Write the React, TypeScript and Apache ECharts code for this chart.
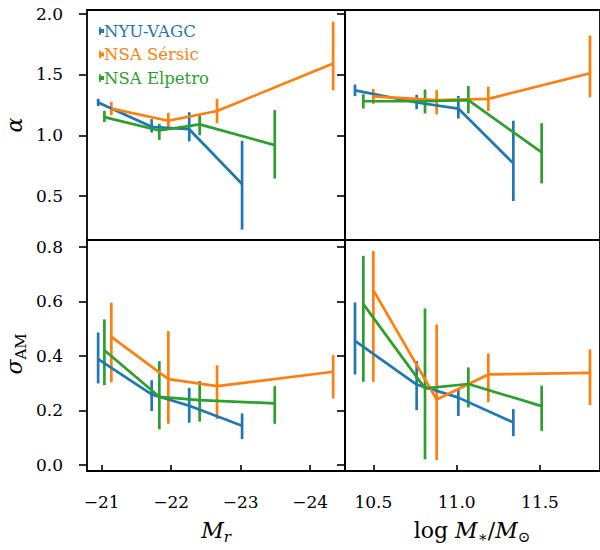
import React, { useEffect, useRef } from "react";
import * as echarts from "echarts";

const BLUE = "#1f77b4";
const ORANGE = "#ff7f0e";
const GREEN = "#2ca02c";
const SERIF = "DejaVu Serif";

const catalogues = ["NYU-VAGC", "NSA Sérsic", "NSA Elpetro"];

// Bin centres in absolute r-band magnitude
const mrNyu = [-20.95, -21.72, -22.26, -23.02];
const mrSersic = [-21.14, -21.96, -22.66, -24.33];
const mrElpetro = [-21.04, -21.83, -22.41, -23.49];

// Bin centres in log stellar mass
const lmNyu = [10.39, 10.76, 11.01, 11.34];
const lmSersic = [10.5, 10.88, 11.19, 11.8];
const lmElpetro = [10.44, 10.81, 11.07, 11.51];

// alpha against M_r; errors are [minus, plus]
const alphaMrNyu = [1.27, 1.07, 1.05, 0.6];
const alphaMrNyuErr = [[0.03, 0.03], [0.047, 0.063], [0.1, 0.14], [0.375, 0.355]];
const alphaMrSersic = [1.22, 1.12, 1.2, 1.59];
const alphaMrSersicErr = [[0.055, 0.055], [0.063, 0.065], [0.1, 0.1], [0.22, 0.345]];
const alphaMrElpetro = [1.15, 1.04, 1.09, 0.92];
const alphaMrElpetroErr = [[0.04, 0.05], [0.077, 0.055], [0.09, 0.088], [0.275, 0.287]];

// alpha against log M*
const alphaLmNyu = [1.37, 1.27, 1.22, 0.77];
const alphaLmNyuErr = [[0.048, 0.048], [0.055, 0.063], [0.082, 0.104], [0.31, 0.35]];
const alphaLmSersic = [1.32, 1.29, 1.3, 1.51];
const alphaLmSersicErr = [[0.062, 0.062], [0.118, 0.082], [0.1, 0.1], [0.197, 0.31]];
const alphaLmElpetro = [1.28, 1.28, 1.29, 0.86];
const alphaLmElpetroErr = [[0.06, 0.058], [0.1, 0.096], [0.11, 0.115], [0.255, 0.24]];

// sigma_AM against M_r
const sigMrNyu = [0.388, 0.259, 0.217, 0.144];
const sigMrNyuErr = [[0.089, 0.098], [0.061, 0.052], [0.062, 0.066], [0.049, 0.045]];
const sigMrSersic = [0.47, 0.315, 0.289, 0.342];
const sigMrSersicErr = [[0.167, 0.125], [0.164, 0.176], [0.121, 0.077], [0.098, 0.061]];
const sigMrElpetro = [0.421, 0.25, 0.238, 0.226];
const sigMrElpetroErr = [[0.128, 0.113], [0.119, 0.131], [0.079, 0.07], [0.075, 0.063]];

// sigma_AM against log M*
const sigLmNyu = [0.455, 0.295, 0.247, 0.156];
const sigLmNyuErr = [[0.123, 0.141], [0.094, 0.086], [0.067, 0.034], [0.05, 0.049]];
const sigLmSersic = [0.641, 0.24, 0.332, 0.338];
const sigLmSersicErr = [[0.336, 0.144], [0.222, 0.275], [0.102, 0.077], [0.118, 0.086]];
const sigLmElpetro = [0.59, 0.281, 0.297, 0.216];
const sigLmElpetroErr = [[0.285, 0.177], [0.26, 0.293], [0.086, 0.061], [0.091, 0.075]];

// Tick positions
const mrTicks = [-21, -22, -23, -24];
const lmTicks = [10.5, 11.0, 11.5];
const alphaTicks = [0.5, 1.0, 1.5, 2.0];
const sigTicks = [0.0, 0.2, 0.4, 0.6, 0.8];

const LINE_W = 2.7;

function errorSeries(grid: number, xs: number[], ys: number[], errs: number[][], color: string, name: string) {
  const line = {
    type: "line",
    name,
    xAxisIndex: grid,
    yAxisIndex: grid,
    data: xs.map((x, i) => [x, ys[i]]),
    symbol: "none",
    showSymbol: false,
    lineStyle: { color, width: LINE_W },
    silent: true,
  };
  const bars = {
    type: "custom",
    name,
    xAxisIndex: grid,
    yAxisIndex: grid,
    data: xs.map((x, i) => [x, ys[i] - errs[i][0], ys[i] + errs[i][1]]),
    encode: { x: 0, y: [1, 2] },
    silent: true,
    renderItem: (_params: any, api: any) => {
      const lo = api.coord([api.value(0), api.value(1)]);
      const hi = api.coord([api.value(0), api.value(2)]);
      return {
        type: "line",
        shape: { x1: lo[0], y1: lo[1], x2: hi[0], y2: hi[1] },
        style: { stroke: color, lineWidth: LINE_W },
      };
    },
  };
  return [line, bars];
}

const tickStyle = { color: "#000", width: 1.6 };
const labelFont = { fontFamily: SERIF, fontSize: 17, color: "#000" };

function xAxisFor(grid: number, kind: "mr" | "lm", labelled: boolean) {
  const isMr = kind === "mr";
  const ticks = isMr ? mrTicks : lmTicks;
  return {
    type: "value",
    gridIndex: grid,
    min: isMr ? -24.5 : 10.33,
    max: isMr ? -20.79 : 11.86,
    inverse: isMr,
    axisLine: { show: false },
    splitLine: { show: false },
    axisTick: { show: labelled, inside: false, length: 7, lineStyle: tickStyle, customValues: ticks },
    axisLabel: {
      show: labelled,
      customValues: ticks,
      margin: 22,
      ...labelFont,
      formatter: (v: number) => (isMr ? "\u2212" + Math.abs(v) : v.toFixed(1)),
    },
  };
}

function yAxisFor(grid: number, kind: "alpha" | "sig", labelled: boolean) {
  const isAlpha = kind === "alpha";
  const ticks = isAlpha ? alphaTicks : sigTicks;
  return {
    type: "value",
    gridIndex: grid,
    min: isAlpha ? 0.14 : -0.022,
    max: isAlpha ? 2.03 : 0.825,
    axisLine: { show: false },
    splitLine: { show: false },
    axisTick: { show: true, inside: false, length: 8, lineStyle: tickStyle, customValues: ticks },
    axisLabel: {
      show: labelled,
      customValues: ticks,
      margin: 24,
      ...labelFont,
      formatter: (v: number) => v.toFixed(1),
    },
  };
}

const gridBox = { show: true, borderColor: "#000", borderWidth: 1.8, backgroundColor: "transparent" };

function legendItem(i: number, color: string, y: number) {
  return [
    {
      type: "rect",
      shape: { x: 99, y: y - 2, width: 5, height: 4 },
      style: { fill: color },
    },
    {
      type: "line",
      shape: { x1: 100, y1: y - 4, x2: 100, y2: y + 4 },
      style: { stroke: color, lineWidth: 1.6 },
    },
    {
      type: "text",
      x: 104,
      y,
      style: {
        text: catalogues[i],
        fill: color,
        font: `16.5px '${SERIF}'`,
        verticalAlign: "middle",
        align: "left",
      },
    },
  ];
}

const mathRich = {
  i: { fontFamily: SERIF, fontStyle: "italic", fontSize: 22, lineHeight: 28, color: "#000" },
  n: { fontFamily: SERIF, fontSize: 22, lineHeight: 28, color: "#000" },
  s: { fontFamily: SERIF, fontSize: 15, lineHeight: 15, verticalAlign: "bottom", color: "#000" },
  si: { fontFamily: SERIF, fontStyle: "italic", fontSize: 15, lineHeight: 15, verticalAlign: "bottom", color: "#000" },
};

export default function App() {
  const ref = useRef<HTMLDivElement>(null);

  useEffect(() => {
    if (!ref.current) return;
    const chart = echarts.init(ref.current, undefined, { renderer: "svg" });

    const series = [
      ...errorSeries(0, mrNyu, alphaMrNyu, alphaMrNyuErr, BLUE, catalogues[0]),
      ...errorSeries(0, mrSersic, alphaMrSersic, alphaMrSersicErr, ORANGE, catalogues[1]),
      ...errorSeries(0, mrElpetro, alphaMrElpetro, alphaMrElpetroErr, GREEN, catalogues[2]),
      ...errorSeries(1, lmNyu, alphaLmNyu, alphaLmNyuErr, BLUE, catalogues[0]),
      ...errorSeries(1, lmSersic, alphaLmSersic, alphaLmSersicErr, ORANGE, catalogues[1]),
      ...errorSeries(1, lmElpetro, alphaLmElpetro, alphaLmElpetroErr, GREEN, catalogues[2]),
      ...errorSeries(2, mrNyu, sigMrNyu, sigMrNyuErr, BLUE, catalogues[0]),
      ...errorSeries(2, mrSersic, sigMrSersic, sigMrSersicErr, ORANGE, catalogues[1]),
      ...errorSeries(2, mrElpetro, sigMrElpetro, sigMrElpetroErr, GREEN, catalogues[2]),
      ...errorSeries(3, lmNyu, sigLmNyu, sigLmNyuErr, BLUE, catalogues[0]),
      ...errorSeries(3, lmSersic, sigLmSersic, sigLmSersicErr, ORANGE, catalogues[1]),
      ...errorSeries(3, lmElpetro, sigLmElpetro, sigLmElpetroErr, GREEN, catalogues[2]),
    ];

    chart.setOption({
      animation: false,
      backgroundColor: "#fff",
      grid: [
        { left: 87, top: 10, width: 258, height: 230, ...gridBox },
        { left: 345, top: 10, width: 257, height: 230, ...gridBox },
        { left: 87, top: 240, width: 258, height: 231, ...gridBox },
        { left: 345, top: 240, width: 257, height: 231, ...gridBox },
      ],
      xAxis: [
        xAxisFor(0, "mr", false),
        xAxisFor(1, "lm", false),
        xAxisFor(2, "mr", true),
        xAxisFor(3, "lm", true),
      ],
      yAxis: [
        yAxisFor(0, "alpha", true),
        yAxisFor(1, "alpha", false),
        yAxisFor(2, "sig", true),
        yAxisFor(3, "sig", false),
      ],
      series,
      graphic: [
        ...legendItem(0, BLUE, 31),
        ...legendItem(1, ORANGE, 54.5),
        ...legendItem(2, GREEN, 78),
        {
          type: "text",
          x: 14,
          y: 125,
          rotation: Math.PI / 2,
          style: {
            text: "α",
            font: `italic 22px '${SERIF}'`,
            fill: "#000",
            align: "center",
            verticalAlign: "middle",
          },
        },
        {
          type: "text",
          x: 14,
          y: 354,
          rotation: Math.PI / 2,
          style: {
            text: "{i|σ}{s|AM}",
            rich: mathRich,
            align: "center",
            verticalAlign: "middle",
          },
        },
        {
          type: "text",
          x: 216,
          y: 530,
          style: {
            text: "{i|M}{si|r}",
            rich: mathRich,
            align: "center",
            verticalAlign: "middle",
          },
        },
        {
          type: "text",
          x: 472,
          y: 530,
          style: {
            text: "{n|log }{i|M}{s|\u2217}{n|/}{i|M}{s|\u2299}",
            rich: mathRich,
            align: "center",
            verticalAlign: "middle",
          },
        },
      ],
    });

    return () => chart.dispose();
  }, []);

  return (
    <div
      ref={ref}
      style={{ position: "absolute", left: 0, top: 0, width: 600, height: 550, background: "#fff" }}
    />
  );
}
